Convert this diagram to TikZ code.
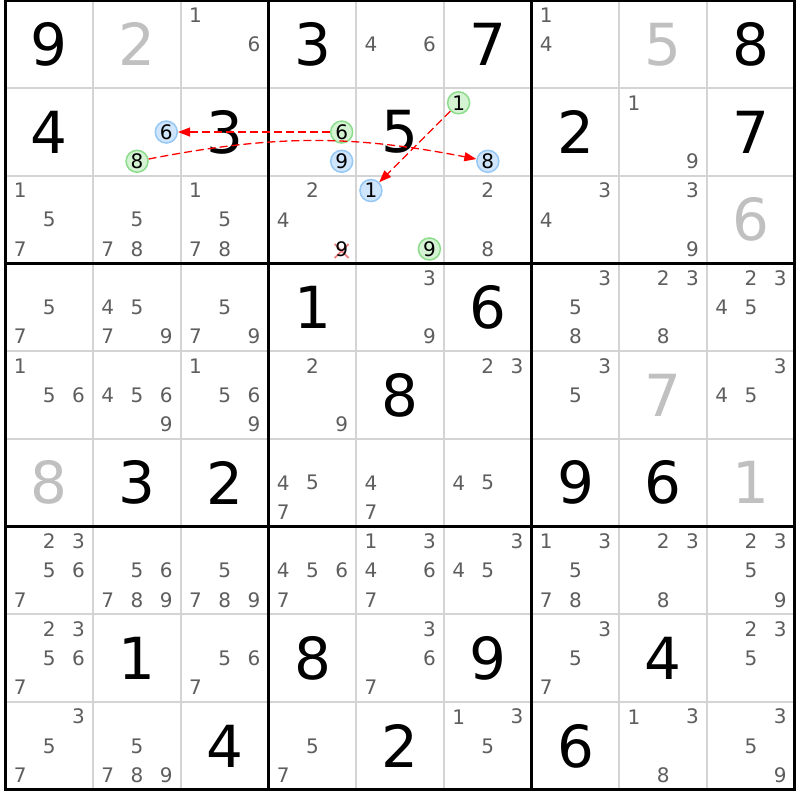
\documentclass[tikz,border=0pt]{standalone}
\usepackage{fontspec}
\setmainfont{DejaVu Sans}
\usetikzlibrary{arrows.meta}
\definecolor{candgray}{HTML}{5E5E5E}
\definecolor{solvgray}{HTML}{C0C0C0}
\definecolor{thinline}{HTML}{D4D4D4}
\definecolor{bfill}{HTML}{CFE5FC}
\definecolor{bdraw}{HTML}{96C8F5}
\definecolor{gfill}{HTML}{D3F3D3}
\definecolor{gdraw}{HTML}{8CDC8C}
\definecolor{linkred}{HTML}{FF0000}
\definecolor{crossred}{HTML}{F08080}
\begin{document}
\begin{tikzpicture}[x=1pt,y=1pt,
  given/.style={inner sep=0pt, font=\fontsize{58}{60}\selectfont, text=black},
  solved/.style={given, text=solvgray},
  cand/.style={inner sep=0pt, font=\fontsize{20}{22}\selectfont, text=candgray},
  bluec/.style={circle, draw=bdraw, fill=bfill, line width=1.5pt, minimum size=22pt, inner sep=0pt, font=\fontsize{20}{22}\selectfont, text=black},
  greenc/.style={bluec, draw=gdraw, fill=gfill},
  elim/.style={inner sep=0pt, font=\fontsize{20}{22}\selectfont, text=black},
  thinrule/.style={draw=thinline, line width=2pt},
  thickrule/.style={draw=black, line width=3pt},
  link/.style={draw=linkred, line width=1.3pt, dash pattern=on 8pt off 4pt, -{Triangle[length=12pt,width=9pt]}},
]
\def\S{87.7}\def\XO{5.5}\def\YT{799.5}
\useasboundingbox (0,0) rectangle (800,800);
\fill[white] (0,0) rectangle (800,800);
% thin grid lines
\foreach \k in {1,2,4,5,7,8} {
  \draw[thinrule] ({\XO+\k*\S},\YT) -- ({\XO+\k*\S},{\YT-9*\S});
  \draw[thinrule] (\XO,{\YT-\k*\S}) -- ({\XO+9*\S},{\YT-\k*\S});
}
% thick grid lines
\foreach \k in {3,6} {
  \draw[thickrule] ({\XO+\k*\S},\YT) -- ({\XO+\k*\S},{\YT-9*\S});
  \draw[thickrule] (\XO,{\YT-\k*\S}) -- ({\XO+9*\S},{\YT-\k*\S});
}
\draw[thickrule] (\XO,\YT) rectangle ({\XO+9*\S},{\YT-9*\S});
% given digits
\foreach \r/\c/\d in {1/1/9,1/4/3,1/6/7,1/9/8,
  2/1/4,2/3/3,2/5/5,2/7/2,2/9/7,
  4/4/1,4/6/6,5/5/8,
  6/2/3,6/3/2,6/7/9,6/8/6,
  8/2/1,8/4/8,8/6/9,8/8/4,
  9/3/4,9/5/2,9/7/6} {
  \node[given] (g\r\c) at ({\XO+(\c-0.5)*\S},{\YT-(\r-0.5)*\S}) {\d};
}
% solved digits
\foreach \r/\c/\d in {1/2/2,1/8/5,3/9/6,5/8/7,6/1/8,6/9/1} {
  \node[solved] (s\r\c) at ({\XO+(\c-0.5)*\S},{\YT-(\r-0.5)*\S}) {\d};
}
% candidates
\foreach \r/\c/\ds in {1/3/{1,6},1/5/{4,6},1/7/{1,4},2/8/{1,9},
  3/1/{1,5,7},3/2/{5,7,8},3/3/{1,5,7,8},3/4/{2,4},3/6/{2,8},3/7/{3,4},3/8/{3,9},
  4/1/{5,7},4/2/{4,5,7,9},4/3/{5,7,9},4/5/{3,9},4/7/{3,5,8},4/8/{2,3,8},4/9/{2,3,4,5},
  5/1/{1,5,6},5/2/{4,5,6,9},5/3/{1,5,6,9},5/4/{2,9},5/6/{2,3},5/7/{3,5},5/9/{3,4,5},
  6/4/{4,5,7},6/5/{4,7},6/6/{4,5},
  7/1/{2,3,5,6,7},7/2/{5,6,7,8,9},7/3/{5,7,8,9},7/4/{4,5,6,7},7/5/{1,3,4,6,7},
  7/6/{3,4,5},7/7/{1,3,5,7,8},7/8/{2,3,8},7/9/{2,3,5,9},
  8/1/{2,3,5,6,7},8/3/{5,6,7},8/5/{3,6,7},8/7/{3,5,7},8/9/{2,3,5},
  9/1/{3,5,7},9/2/{5,7,8,9},9/4/{5,7},9/6/{1,3,5},9/8/{1,3,8},9/9/{3,5,9}} {
  \foreach \d in \ds {
    \pgfmathtruncatemacro\ii{div(\d-1,3)}
    \pgfmathtruncatemacro\jj{mod(\d-1,3)}
    \node[cand] (c\r\c\d) at ({\XO+(\c-1)*\S+(\jj+0.5)*\S/3},{\YT-(\r-1)*\S-(\ii+0.5)*\S/3}) {\d};
  }
}
% eliminated candidate 9 in r3c4
\coordinate (x349) at ({\XO+3*\S+2.5*\S/3},{\YT-2*\S-2.5*\S/3});
\draw[crossred, line width=1.8pt] ([shift={(-7,-9)}]x349) -- ([shift={(7,5)}]x349)
  ([shift={(-7,5)}]x349) -- ([shift={(7,-9)}]x349);
\node[elim] (e349) at (x349) {9};
% highlighted candidates
\foreach \r/\c/\d in {2/2/6,2/4/9,2/6/8,3/5/1} {
  \pgfmathtruncatemacro\ii{div(\d-1,3)}
  \pgfmathtruncatemacro\jj{mod(\d-1,3)}
  \node[bluec] (k\r\c\d) at ({\XO+(\c-1)*\S+(\jj+0.5)*\S/3},{\YT-(\r-1)*\S-(\ii+0.5)*\S/3}) {\d};
}
\foreach \r/\c/\d in {2/2/8,2/4/6,2/6/1,3/5/9} {
  \pgfmathtruncatemacro\ii{div(\d-1,3)}
  \pgfmathtruncatemacro\jj{mod(\d-1,3)}
  \node[greenc] (k\r\c\d) at ({\XO+(\c-1)*\S+(\jj+0.5)*\S/3},{\YT-(\r-1)*\S-(\ii+0.5)*\S/3}) {\d};
}
% chain links
\draw[link] (k246) -- (k226);
\draw[link] (k228) to[bend left=11] (k268);
\draw[link] (k261) -- (k351);
\end{tikzpicture}
\end{document}
